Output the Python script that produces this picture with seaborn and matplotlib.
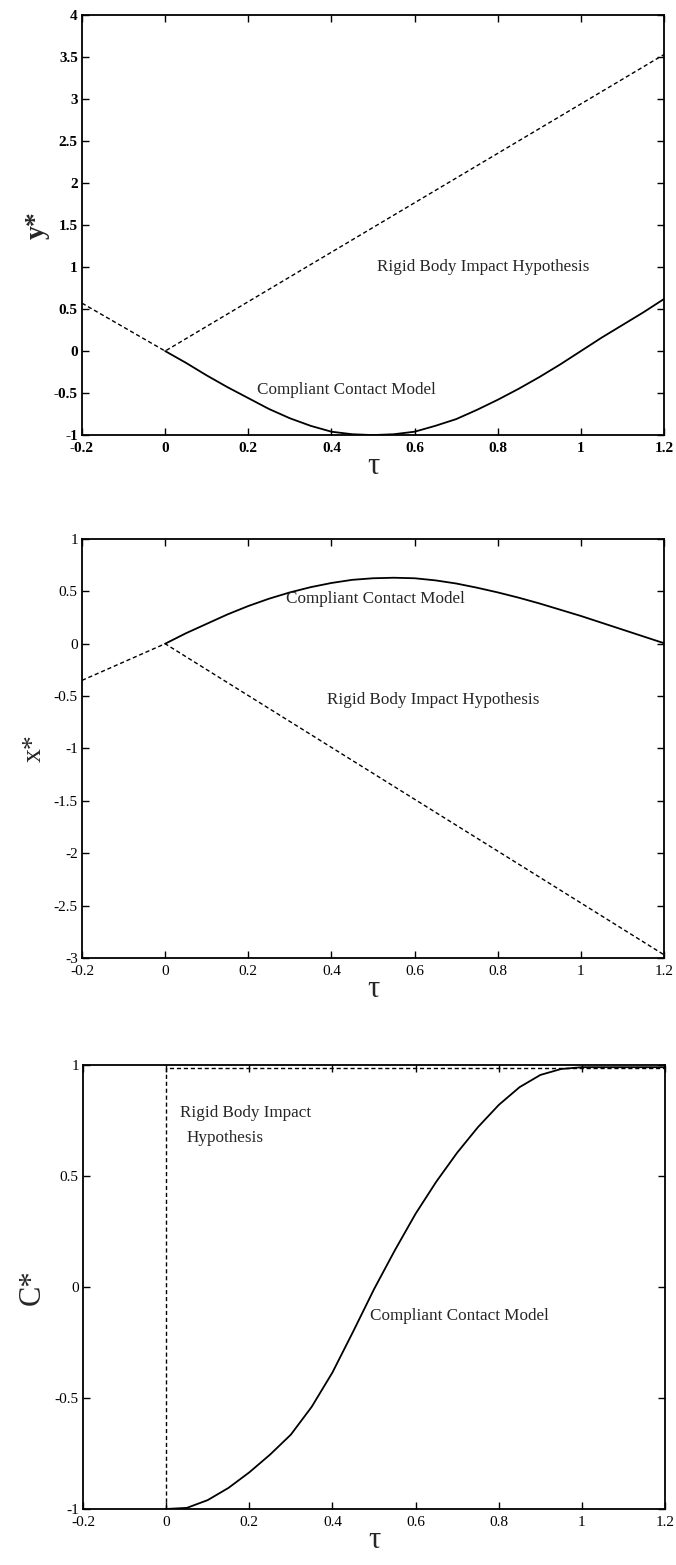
import numpy as np
import pandas as pd
import seaborn as sns
import matplotlib
matplotlib.use("Agg")
import matplotlib.pyplot as plt

# valores
tau_fino = [0.0, 0.05, 0.1, 0.15, 0.2, 0.25, 0.3, 0.35, 0.4, 0.45, 0.5, 0.55,
            0.6, 0.65, 0.7, 0.75, 0.8, 0.85, 0.9, 0.95, 1.0, 1.05, 1.1, 1.15, 1.2]

# y* - modelo de contato complacente
y_compl = [0.0, -0.14, -0.29, -0.43, -0.56, -0.69, -0.80, -0.89, -0.96, -0.99, -1.0, -0.99,
           -0.96, -0.89, -0.81, -0.70, -0.58, -0.45, -0.31, -0.16, 0.0, 0.16, 0.31, 0.46, 0.62]
# y* - hipotese de impacto de corpo rigido
tau_rig_y = [-0.2, 0.0, 1.2]
y_rig = [0.57, 0.0, 3.53]

# x*
x_compl = [0.0, 0.10, 0.19, 0.28, 0.36, 0.43, 0.49, 0.54, 0.58, 0.61, 0.625, 0.63,
           0.625, 0.605, 0.575, 0.535, 0.49, 0.44, 0.385, 0.325, 0.265, 0.20, 0.135, 0.07, 0.005]
tau_rig_x = [-0.2, 0.0, 1.2]
x_rig = [-0.35, 0.0, -2.97]

# C*
c_compl = [-1.0, -0.995, -0.96, -0.905, -0.835, -0.755, -0.665, -0.54, -0.385, -0.20, -0.01, 0.165,
           0.33, 0.475, 0.605, 0.72, 0.82, 0.90, 0.955, 0.982, 0.99, 0.99, 0.99, 0.99, 0.99]
tau_rig_c = [0.0, 0.0, 1.2]
c_rig = [-1.0, 0.985, 0.985]

x_ticks = [-0.2, 0, 0.2, 0.4, 0.6, 0.8, 1, 1.2]
x_ticklabels = ["-0.2", "0", "0.2", "0.4", "0.6", "0.8", "1", "1.2"]

sns.set_theme(style="ticks")
plt.rcParams['font.family'] = ['Liberation Serif', 'DejaVu Serif']
plt.rcParams['axes.linewidth'] = 1.3
plt.rcParams['xtick.direction'] = 'in'
plt.rcParams['ytick.direction'] = 'in'

fig = plt.figure(figsize=(6.76, 15.65), dpi=100)
ax1 = fig.add_axes([0.1213, 0.722, 0.861, 0.2684])
ax2 = fig.add_axes([0.1213, 0.3879, 0.861, 0.2677])
ax3 = fig.add_axes([0.1228, 0.0358, 0.861, 0.2837])

tracejado = (0, (3, 2))

def desenha(ax, tau_c, val_c, tau_r, val_r):
    sns.lineplot(x=tau_c, y=val_c, ax=ax, color='black', lw=1.3, estimator=None, sort=False)
    sns.lineplot(x=tau_r, y=val_r, ax=ax, color='black', lw=1.0, linestyle=tracejado,
                 estimator=None, sort=False)

desenha(ax1, tau_fino, y_compl, tau_rig_y, y_rig)
desenha(ax2, tau_fino, x_compl, tau_rig_x, x_rig)
desenha(ax3, tau_fino, c_compl, tau_rig_c, c_rig)

# eixos
config = [
    (ax1, (-1, 4), [-1, -0.5, 0, 0.5, 1, 1.5, 2, 2.5, 3, 3.5, 4],
     ["-1", "-0.5", "0", "0.5", "1", "1.5", "2", "2.5", "3", "3.5", "4"], "y*", 'bold', 3),
    (ax2, (-3, 1), [-3, -2.5, -2, -1.5, -1, -0.5, 0, 0.5, 1],
     ["-3", "-2.5", "-2", "-1.5", "-1", "-0.5", "0", "0.5", "1"], "x*", 'normal', 5),
    (ax3, (-1, 1), [-1, -0.5, 0, 0.5, 1],
     ["-1", "-0.5", "0", "0.5", "1"], "C*", 'normal', 6),
]
for ax, ylim, yt, ytl, ylab, peso, pad in config:
    ax.set_xlim(-0.2, 1.2)
    ax.set_ylim(*ylim)
    ax.set_xticks(x_ticks)
    ax.set_xticklabels(x_ticklabels, fontsize=11, fontweight=peso)
    ax.set_yticks(yt)
    ax.set_yticklabels(ytl, fontsize=11, fontweight=peso)
    ax.tick_params(top=True, right=True, length=5, width=1, colors='black')
    ax.tick_params(axis='x', pad=5)
    ax.tick_params(axis='y', pad=3)
    ax.set_xlabel("τ", fontsize=22, labelpad=-2)
    ax.set_ylabel(ylab, fontsize=22 if ylab == "C*" else 20, labelpad=pad, fontweight=peso)
    for s in ax.spines.values():
        s.set_color('black')

# anotacoes
ax1.text(0.51, 1.0, "Rigid Body Impact Hypothesis", fontsize=12.3, va='center')
ax1.text(0.22, -0.46, "Compliant Contact Model", fontsize=12.3, va='center')
ax2.text(0.29, 0.43, "Compliant Contact Model", fontsize=12.3, va='center')
ax2.text(0.39, -0.54, "Rigid Body Impact Hypothesis", fontsize=12.3, va='center')
ax3.text(0.033, 0.785, "Rigid Body Impact", fontsize=12.3, va='center')
ax3.text(0.05, 0.67, "Hypothesis", fontsize=12.3, va='center')
ax3.text(0.49, -0.13, "Compliant Contact Model", fontsize=12.3, va='center')

fig.savefig("out.png", dpi=100)
